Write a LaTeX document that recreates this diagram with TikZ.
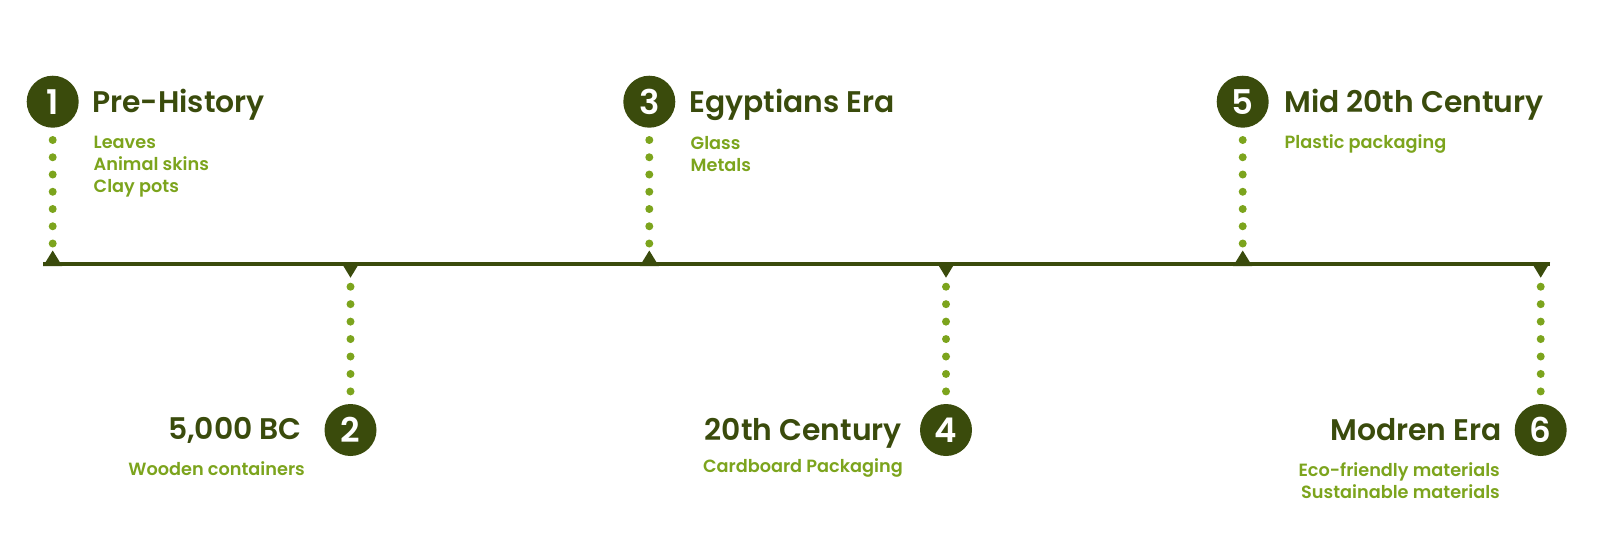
\documentclass[tikz,border=0pt]{standalone}
\usepackage{fontspec}
\setmainfont{Poppins}
\newfontfamily\titlefont{Poppins SemiBold}
\newfontfamily\numfont{Poppins SemiBold}
\newfontfamily\itemfont{Poppins SemiBold}
\definecolor{dkgreen}{HTML}{3A4B0C}
\definecolor{ltgreen}{HTML}{7CA41D}
\tikzset{
  num/.style={circle, fill=dkgreen, minimum size=52pt, inner sep=0pt, text=white,
    font=\numfont\fontsize{34}{34}\selectfont},
  ttl/.style={text=dkgreen, inner sep=0pt, font=\titlefont\fontsize{29.8}{29.8}\selectfont},
  itm/.style={text=ltgreen, inner sep=0pt, font=\itemfont\fontsize{17.7}{17.7}\selectfont},
  dotline/.style={draw=ltgreen, line width=8pt, line cap=round, dash pattern=on 0pt off #1},
  axisline/.style={draw=dkgreen, line width=4pt},
  tickmark/.style={fill=dkgreen, draw=none}
}
\begin{document}
\begin{tikzpicture}[x=1pt,y=-1pt]
\useasboundingbox (0,0) rectangle (1600,550);
% axis
\coordinate (axL) at (43.3,264);
\coordinate (axR) at (1549.5,264);
\draw[axisline] (axL) -- (axR);
% events above the axis
\foreach \i/\x in {1/52.7,3/649.3,5/1242.7}{
  \node[num] (c\i) at (\x,101.7) {\i};
  \coordinate (d\i a) at (\x,140);
  \coordinate (d\i b) at (\x,243.7);
  \coordinate (t\i) at (\x,250.5);
  \fill[tickmark] (t\i) -- ++(9.5,15.5) -- ++(-19,0) -- cycle;
  \draw[dotline=17.25pt] (d\i a) -- (d\i b);
}
% events below the axis
\foreach \i/\x in {2/350.5,4/946,6/1540.7}{
  \node[num] (c\i) at (\x,430) {\i};
  \coordinate (d\i a) at (\x,286.7);
  \coordinate (d\i b) at (\x,391.7);
  \coordinate (t\i) at (\x,277.7);
  \fill[tickmark] (t\i) -- ++(9.5,-15.7) -- ++(-19,0) -- cycle;
  \draw[dotline=17.45pt] (d\i a) -- (d\i b);
}
% top titles and items
\node[ttl, anchor=base west] (h1) at (92,112) {Pre-History};
\node[itm, anchor=base west] (i1a) at (93.5,148) {Leaves};
\node[itm, anchor=base west] (i1b) at (93.5,170) {Animal skins};
\node[itm, anchor=base west] (i1c) at (93.5,192) {Clay pots};
\node[ttl, anchor=base west] (h3) at (689,112) {Egyptians Era};
\node[itm, anchor=base west] (i3a) at (690.5,149) {Glass};
\node[itm, anchor=base west] (i3b) at (690.5,171) {Metals};
\node[ttl, anchor=base west] (h5) at (1284,112) {Mid 20th Century};
\node[itm, anchor=base west] (i5a) at (1284.5,148) {Plastic packaging};
% bottom titles and items
\node[ttl, anchor=base east] (h2) at (302,439) {5,000 BC};
\node[itm, anchor=base east] (i2a) at (305,475) {Wooden containers};
\node[ttl, anchor=base east] (h4) at (902,440) {20th Century};
\node[itm, anchor=base east] (i4a) at (903,472) {Cardboard Packaging};
\node[ttl, anchor=base east] (h6) at (1502,440) {Modren Era};
\node[itm, anchor=base east] (i6a) at (1500,476.5) {Eco-friendly materials};
\node[itm, anchor=base east] (i6b) at (1500,498) {Sustainable materials};
\end{tikzpicture}
\end{document}
